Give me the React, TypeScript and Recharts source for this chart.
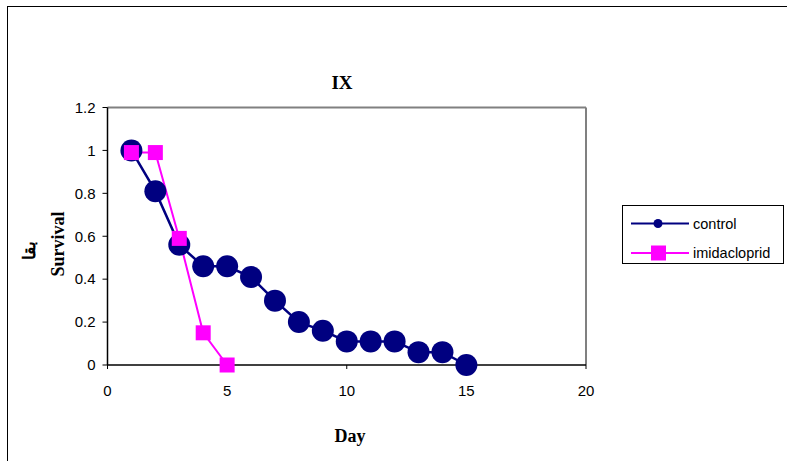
import React from 'react';
import {
    LineChart,
    Line,
    XAxis,
    YAxis,
    Legend,
    ReferenceLine,
    Customized
} from 'recharts';

// Survival per day
const days = [1, 2, 3, 4, 5, 6, 7, 8, 9, 10, 11, 12, 13, 14, 15];
const control = [1.0, 0.81, 0.56, 0.46, 0.46, 0.41, 0.3, 0.2, 0.16, 0.11, 0.11, 0.11, 0.06, 0.06, 0];
const imidacloprid = [0.99, 0.99, 0.59, 0.15, 0];

const xTicks = [0, 5, 10, 15, 20];
const yTicks = [0, 0.2, 0.4, 0.6, 0.8, 1, 1.2];

const chartTitle = 'IX';
const xTitle = 'Day';
const yTitleFa = 'بقا';
const yTitle = 'Survival';

const NAVY = '#000080';
const MAGENTA = '#FF00FF';
const SANS = '"Liberation Sans", Arial, sans-serif';
const SERIF = '"Liberation Serif", "Times New Roman", serif';

const data = days.map((d, i) => ({
    day: d,
    control: control[i],
    imidacloprid: i < imidacloprid.length ? imidacloprid[i] : null
}));

const SquareDot = (props: any) => {
    const { cx, cy, index } = props;
    if (cx == null || cy == null) return <g key={`sq-${index}`} />;
    return <rect key={`sq-${index}`} x={cx - 7.5} y={cy - 7.5} width={15} height={15} fill={MAGENTA} />;
};

const CircleDot = (props: any) => {
    const { cx, cy, index } = props;
    if (cx == null || cy == null) return <g key={`c-${index}`} />;
    return <circle key={`c-${index}`} cx={cx} cy={cy} r={11} fill={NAVY} />;
};

const LegendBox = () => (
    <div style={{ border: '1px solid #000', background: '#fff', width: 160, height: 57 }}>
        <svg width={160} height={57}>
            <line x1={8} x2={66} y1={17.5} y2={17.5} stroke={NAVY} strokeWidth={2} />
            <circle cx={35} cy={17.5} r={4.5} fill={NAVY} />
            <text x={70} y={22.5} fontFamily={SANS} fontSize={14.5} fill="#000">control</text>
            <line x1={8} x2={66} y1={47} y2={47} stroke={MAGENTA} strokeWidth={2} />
            <rect x={28} y={39.5} width={15} height={15} fill={MAGENTA} />
            <text x={70} y={52} fontFamily={SANS} fontSize={14.5} fill="#000">imidacloprid</text>
        </svg>
    </div>
);

const Titles = () => (
    <g>
        <text x={342} y={89} textAnchor="middle" fontFamily={SERIF} fontWeight="bold" fontSize={19} fill="#000">
            {chartTitle}
        </text>
        <text x={350} y={442} textAnchor="middle" fontFamily={SERIF} fontWeight="bold" fontSize={18} fill="#000">
            {xTitle}
        </text>
        <text x={35} y={250} transform="rotate(-90 35 250)" textAnchor="middle" fontFamily={SERIF} fontWeight="bold" fontSize={17} fill="#000">
            {yTitleFa}
        </text>
        <text x={64} y={244} transform="rotate(-90 64 244)" textAnchor="middle" fontFamily={SERIF} fontWeight="bold" fontSize={18} fill="#000">
            {yTitle}
        </text>
    </g>
);

export default function App() {
    return (
        <div style={{ position: 'absolute', left: 0, top: 0, width: 787, height: 461, background: '#fff' }}>
            {/* outer chart frame, cut off on the right and bottom */}
            <div style={{
                position: 'absolute', left: 7, top: 6, width: 800, height: 480,
                borderLeft: '1.5px solid #000', borderTop: '1.5px solid #000'
            }} />
            <LineChart
                width={787}
                height={461}
                data={data}
                margin={{ top: 107.5, right: 201, left: 67.5, bottom: 66 }}
            >
                <XAxis
                    dataKey="day"
                    type="number"
                    domain={[0, 20]}
                    ticks={xTicks}
                    interval={0}
                    height={30}
                    tickSize={4}
                    tickMargin={16}
                    axisLine={{ stroke: '#000', strokeWidth: 1.5 }}
                    tickLine={{ stroke: '#000' }}
                    tick={{ fontFamily: SANS, fontSize: 15, fill: '#000' }}
                />
                <YAxis
                    type="number"
                    domain={[0, 1.2]}
                    ticks={yTicks}
                    interval={0}
                    width={40}
                    tickSize={5}
                    tickMargin={7}
                    axisLine={{ stroke: '#000', strokeWidth: 1.5 }}
                    tickLine={{ stroke: '#000' }}
                    tick={{ fontFamily: SANS, fontSize: 15, fill: '#000' }}
                />
                <ReferenceLine y={1.2} stroke="#808080" strokeWidth={2} />
                <ReferenceLine x={20} stroke="#808080" strokeWidth={2} />
                <Line
                    dataKey="control"
                    name="control"
                    type="linear"
                    stroke={NAVY}
                    strokeWidth={2.5}
                    dot={CircleDot}
                    activeDot={false}
                    isAnimationActive={false}
                />
                <Line
                    dataKey="imidacloprid"
                    name="imidacloprid"
                    type="linear"
                    stroke={MAGENTA}
                    strokeWidth={2}
                    dot={SquareDot}
                    activeDot={false}
                    isAnimationActive={false}
                />
                <Legend
                    layout="horizontal"
                    verticalAlign="middle"
                    content={LegendBox}
                    wrapperStyle={{ left: 622, top: 205, width: 162, height: 59 }}
                />
                <Customized component={Titles} />
            </LineChart>
        </div>
    );
}
